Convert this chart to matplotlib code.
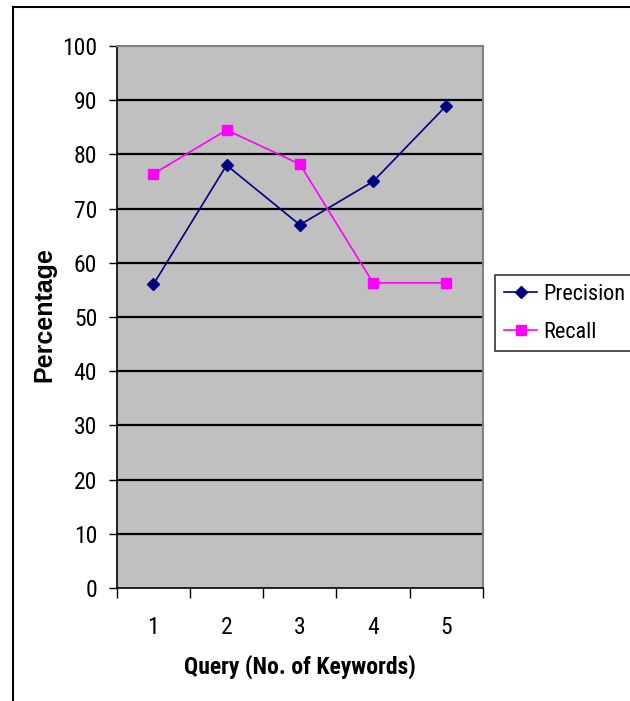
import matplotlib
matplotlib.use("Agg")
import matplotlib.pyplot as plt
from matplotlib.lines import Line2D
from matplotlib import font_manager as fm

names = {f.name for f in fm.fontManager.ttflist}
narrow = 'Liberation Sans'
hs = 0.85
for cand in ['Liberation Sans Narrow', 'Arial Narrow', 'Roboto Condensed']:
    if cand in names:
        narrow = cand
        hs = 1.0
        break
plt.rcParams['font.family'] = [narrow, 'DejaVu Sans']

queries = [1, 2, 3, 4, 5]
query_labels = ['1', '2', '3', '4', '5']
precision = [56, 78, 67, 75, 89]
recall = [76.4, 84.5, 78.2, 56.3, 56.3]
yticks = [0, 10, 20, 30, 40, 50, 60, 70, 80, 90, 100]

fig = plt.figure(figsize=(6.3, 7.01), dpi=100)
ax = fig.add_axes([0.1852, 0.1612, 0.5815, 0.7732])
ax.set_facecolor('#C0C0C0')

ax.plot(queries, precision, color='#000080', marker='D', markersize=6,
        linewidth=1.2, label='Precision')
ax.plot(queries, recall, color='#FF00FF', marker='s', markersize=7,
        linewidth=1.2, label='Recall')

ax.set_xlim(0.5, 5.5)
ax.set_ylim(0, 100)
ax.set_yticks(yticks)
ax.set_yticklabels([str(v) for v in yticks])
for v in yticks[1:-1]:
    ax.axhline(v, color='black', linewidth=1.6, zorder=1)

ax.set_xticks([0.5, 1.5, 2.5, 3.5, 4.5, 5.5])
ax.set_xticklabels([])
ax.set_xticks(queries, minor=True)
ax.set_xticklabels(query_labels, minor=True)
ax.tick_params(axis='x', which='major', length=7, width=1, direction='out')
ax.tick_params(axis='x', which='minor', length=0, pad=20, labelsize=17 * hs)
ax.tick_params(axis='y', length=6, width=1, direction='out', pad=8, labelsize=17 * hs)

for s in ['top', 'right']:
    ax.spines[s].set_color('#808080')
    ax.spines[s].set_linewidth(1.5)
for s in ['left', 'bottom']:
    ax.spines[s].set_color('black')
    ax.spines[s].set_linewidth(1.2)

ax.set_xlabel('Query (No. of Keywords)', fontsize=17 * hs, fontweight='bold')
ax.xaxis.set_label_coords(0.5, -(667 - 588) / 542)
ax.xaxis.label.set_va('center')
ax.set_ylabel('Percentage', fontsize=18, fontweight='bold',
              family=['Liberation Sans', 'DejaVu Sans'])
ax.yaxis.set_label_coords((45 - 117) / 366, (588 - 315) / 542)
ax.yaxis.label.set_va('center')

leg = fig.legend(loc='upper left', bbox_to_anchor=(495 / 630, 1 - 275 / 701),
                 prop={'family': [narrow, 'DejaVu Sans'], 'size': 16 * hs},
                 frameon=True, fancybox=False, edgecolor='black',
                 handlelength=1.5, handletextpad=0.27, borderpad=0.4,
                 labelspacing=0.75, borderaxespad=0)
leg.get_frame().set_linewidth(1.2)

# outer chart frame
fig.add_artist(Line2D([13 / 630, 13 / 630], [0, 1 - 7 / 701], color='black', linewidth=1.5,
                      transform=fig.transFigure))
fig.add_artist(Line2D([13 / 630, 1], [1 - 7 / 701, 1 - 7 / 701], color='black', linewidth=1.5,
                      transform=fig.transFigure))

fig.savefig('out.png', dpi=100)
